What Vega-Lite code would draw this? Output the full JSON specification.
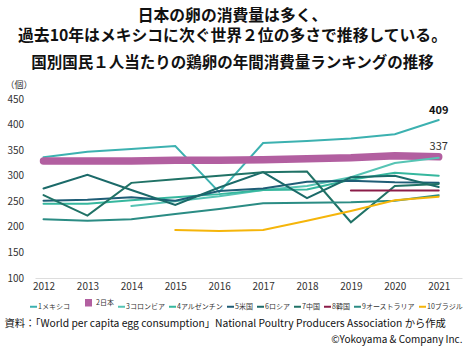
{
  "$schema": "https://vega.github.io/schema/vega-lite/v6.json",
  "width": 427,
  "height": 179,
  "autosize": "none",
  "padding": {"left": 35, "top": 99, "right": 3, "bottom": 70},
  "background": "white",
  "title": {
    "text": ["日本の卵の消費量は多く、", "過去10年はメキシコに次ぐ世界２位の多さで推移している。"],
    "subtitle": "国別国民１人当たりの鶏卵の年間消費量ランキングの推移",
    "anchor": "middle",
    "frame": "group",
    "dx": -16,
    "font": "Noto Sans CJK JP",
    "fontSize": 15.8,
    "fontWeight": "bold",
    "color": "#111111",
    "lineHeight": 20,
    "subtitleFont": "Noto Sans CJK JP",
    "subtitleFontSize": 15.5,
    "subtitleFontWeight": "bold",
    "subtitleColor": "#111111",
    "subtitlePadding": 11,
    "offset": 8
  },
  "config": {
    "view": {"stroke": null},
    "font": "Noto Sans CJK JP"
  },
  "data": {
    "values": [
      {"country": "1メキシコ", "year": 2012, "value": 336},
      {"country": "1メキシコ", "year": 2013, "value": 347},
      {"country": "1メキシコ", "year": 2014, "value": 352},
      {"country": "1メキシコ", "year": 2015, "value": 358},
      {"country": "1メキシコ", "year": 2016, "value": 268},
      {"country": "1メキシコ", "year": 2017, "value": 364},
      {"country": "1メキシコ", "year": 2018, "value": 368},
      {"country": "1メキシコ", "year": 2019, "value": 373},
      {"country": "1メキシコ", "year": 2020, "value": 381},
      {"country": "1メキシコ", "year": 2021, "value": 409},
      {"country": "2日本", "year": 2012, "value": 329},
      {"country": "2日本", "year": 2013, "value": 329},
      {"country": "2日本", "year": 2014, "value": 329},
      {"country": "2日本", "year": 2015, "value": 330},
      {"country": "2日本", "year": 2016, "value": 330},
      {"country": "2日本", "year": 2017, "value": 331},
      {"country": "2日本", "year": 2018, "value": 333},
      {"country": "2日本", "year": 2019, "value": 335},
      {"country": "2日本", "year": 2020, "value": 339},
      {"country": "2日本", "year": 2021, "value": 337},
      {"country": "3コロンビア", "year": 2014, "value": 241},
      {"country": "3コロンビア", "year": 2015, "value": 250},
      {"country": "3コロンビア", "year": 2016, "value": 260},
      {"country": "3コロンビア", "year": 2017, "value": 272},
      {"country": "3コロンビア", "year": 2018, "value": 280},
      {"country": "3コロンビア", "year": 2019, "value": 297},
      {"country": "3コロンビア", "year": 2020, "value": 325},
      {"country": "3コロンビア", "year": 2021, "value": 335},
      {"country": "4アルゼンチン", "year": 2012, "value": 245},
      {"country": "4アルゼンチン", "year": 2013, "value": 245},
      {"country": "4アルゼンチン", "year": 2014, "value": 252},
      {"country": "4アルゼンチン", "year": 2015, "value": 258},
      {"country": "4アルゼンチン", "year": 2016, "value": 264},
      {"country": "4アルゼンチン", "year": 2017, "value": 272},
      {"country": "4アルゼンチン", "year": 2018, "value": 273},
      {"country": "4アルゼンチン", "year": 2019, "value": 292},
      {"country": "4アルゼンチン", "year": 2020, "value": 306},
      {"country": "4アルゼンチン", "year": 2021, "value": 300},
      {"country": "5米国", "year": 2012, "value": 251},
      {"country": "5米国", "year": 2013, "value": 253},
      {"country": "5米国", "year": 2014, "value": 258},
      {"country": "5米国", "year": 2015, "value": 251},
      {"country": "5米国", "year": 2016, "value": 270},
      {"country": "5米国", "year": 2017, "value": 275},
      {"country": "5米国", "year": 2018, "value": 288},
      {"country": "5米国", "year": 2019, "value": 290},
      {"country": "5米国", "year": 2020, "value": 287},
      {"country": "5米国", "year": 2021, "value": 286},
      {"country": "6ロシア", "year": 2012, "value": 275},
      {"country": "6ロシア", "year": 2013, "value": 302},
      {"country": "6ロシア", "year": 2014, "value": 272},
      {"country": "6ロシア", "year": 2015, "value": 243},
      {"country": "6ロシア", "year": 2016, "value": 277},
      {"country": "6ロシア", "year": 2017, "value": 307},
      {"country": "6ロシア", "year": 2018, "value": 256},
      {"country": "6ロシア", "year": 2019, "value": 297},
      {"country": "6ロシア", "year": 2020, "value": 300},
      {"country": "6ロシア", "year": 2021, "value": 278},
      {"country": "7中国", "year": 2012, "value": 262},
      {"country": "7中国", "year": 2013, "value": 222},
      {"country": "7中国", "year": 2014, "value": 286},
      {"country": "7中国", "year": 2015, "value": 293},
      {"country": "7中国", "year": 2016, "value": 300},
      {"country": "7中国", "year": 2017, "value": 307},
      {"country": "7中国", "year": 2018, "value": 308},
      {"country": "7中国", "year": 2019, "value": 209},
      {"country": "7中国", "year": 2020, "value": 280},
      {"country": "7中国", "year": 2021, "value": 284},
      {"country": "8韓国", "year": 2019, "value": 271},
      {"country": "8韓国", "year": 2020, "value": 271},
      {"country": "8韓国", "year": 2021, "value": 271},
      {"country": "9オーストラリア", "year": 2012, "value": 215},
      {"country": "9オーストラリア", "year": 2013, "value": 212},
      {"country": "9オーストラリア", "year": 2014, "value": 215},
      {"country": "9オーストラリア", "year": 2015, "value": 225},
      {"country": "9オーストラリア", "year": 2016, "value": 235},
      {"country": "9オーストラリア", "year": 2017, "value": 246},
      {"country": "9オーストラリア", "year": 2018, "value": 247},
      {"country": "9オーストラリア", "year": 2019, "value": 248},
      {"country": "9オーストラリア", "year": 2020, "value": 251},
      {"country": "9オーストラリア", "year": 2021, "value": 262},
      {"country": "10ブラジル", "year": 2015, "value": 194},
      {"country": "10ブラジル", "year": 2016, "value": 192},
      {"country": "10ブラジル", "year": 2017, "value": 194},
      {"country": "10ブラジル", "year": 2018, "value": 212},
      {"country": "10ブラジル", "year": 2019, "value": 231},
      {"country": "10ブラジル", "year": 2020, "value": 252},
      {"country": "10ブラジル", "year": 2021, "value": 259}
    ]
  },
  "resolve": {"axis": {"x": "independent", "y": "independent"}},
  "layer": [
    {
      "mark": {"type": "line", "strokeCap": "round", "strokeJoin": "miter"},
      "encoding": {
        "x": {
          "field": "year",
          "type": "quantitative",
          "scale": {"domain": [2011.806, 2021.53], "nice": false, "zero": false},
          "axis": {
            "values": [2012, 2013, 2014, 2015, 2016, 2017, 2018, 2019, 2020, 2021],
            "format": "d",
            "grid": false,
            "ticks": false,
            "domain": true,
            "domainColor": "#dddddd",
            "domainWidth": 1,
            "labelPadding": 3,
            "labelOverlap": false,
            "labelFontSize": 10,
            "labelColor": "#333333",
            "labelFont": "Noto Sans CJK JP",
            "title": "資料：「World per capita egg consumption」National Poultry Producers Association から作成",
            "titleFont": "Noto Sans CJK JP",
            "titleFontSize": 10.3,
            "titleFontWeight": "normal",
            "titleColor": "#111111",
            "titleAlign": "left",
            "titleAnchor": "start",
            "titleBaseline": "middle",
            "titleX": -31,
            "titleY": 45
          }
        },
        "y": {
          "field": "value",
          "type": "quantitative",
          "scale": {"domain": [100, 450], "nice": false, "zero": false},
          "axis": {
            "values": [100, 150, 200, 250, 300, 350, 400, 450],
            "grid": false,
            "ticks": false,
            "tickSize": 0,
            "domain": false,
            "labelOverlap": false,
            "labelAlign": "left",
            "labelPadding": 28,
            "labelFontSize": 10,
            "labelColor": "#333333",
            "labelFont": "Noto Sans CJK JP",
            "title": "（個）",
            "titleAngle": 0,
            "titleAlign": "left",
            "titleBaseline": "middle",
            "titleX": -30,
            "titleY": -15,
            "titleFontSize": 9,
            "titleFontWeight": "normal",
            "titleColor": "#333333"
          }
        },
        "color": {
          "field": "country",
          "type": "nominal",
          "scale": {
            "domain": ["1メキシコ", "2日本", "3コロンビア", "4アルゼンチン", "5米国", "6ロシア", "7中国", "8韓国", "9オーストラリア", "10ブラジル"],
            "range": ["#3cb1b0", "#b25fa0", "#56c4b4", "#36b79e", "#1f5d76", "#1b6a69", "#207266", "#8b1c48", "#2b8c84", "#f5b50a"]
          },
          "legend": {
            "orient": "none",
            "legendX": -6,
            "legendY": 196,
            "direction": "horizontal",
            "title": null,
            "symbolType": "stroke",
            "symbolSize": 49,
            "symbolStrokeWidth": 2,
            "labelFontSize": 7,
            "labelFont": "Noto Sans CJK JP",
            "labelColor": "#333333",
            "labelOffset": 0,
            "columnPadding": 0,
            "padding": 0,
            "rowPadding": 0,
            "encode": {
              "symbols": {
                "update": {
                  "strokeWidth": {"signal": "datum.value === '2日本' ? 6 : 2"}
                }
              }
            }
          }
        },
        "strokeWidth": {
          "field": "country",
          "type": "nominal",
          "scale": {
            "type": "ordinal",
            "domain": ["1メキシコ", "2日本", "3コロンビア", "4アルゼンチン", "5米国", "6ロシア", "7中国", "8韓国", "9オーストラリア", "10ブラジル"],
            "range": [2, 7.5, 2, 2, 2, 2, 2, 2, 2, 2]
          },
          "legend": null
        },
        "order": {"field": "year", "type": "quantitative"}
      }
    },
    {
      "transform": [{"filter": "datum.year === 2021 && datum.country === '1メキシコ'"}],
      "mark": {"type": "text", "fontWeight": "bold", "fontSize": 11, "baseline": "bottom", "align": "center", "dy": -4, "color": "#111111", "font": "Noto Sans CJK JP"},
      "encoding": {
        "x": {
          "field": "year",
          "type": "quantitative",
          "axis": {
            "orient": "top",
            "labels": false,
            "ticks": false,
            "domain": false,
            "grid": false,
            "title": "©Yokoyama & Company Inc.",
            "titleFont": "Noto Sans CJK JP",
            "titleFontSize": 10,
            "titleFontWeight": "normal",
            "titleColor": "#111111",
            "titleAlign": "right",
            "titleAnchor": "end",
            "titleBaseline": "middle",
            "titleAngle": 0,
            "titleX": 427,
            "titleY": 240
          }
        },
        "y": {"field": "value", "type": "quantitative", "axis": null},
        "text": {"field": "value", "type": "quantitative"}
      }
    },
    {
      "transform": [{"filter": "datum.year === 2021 && datum.country === '2日本'"}],
      "mark": {"type": "text", "fontWeight": "normal", "fontSize": 11, "baseline": "bottom", "align": "center", "dy": -5, "color": "#333333", "font": "Noto Sans CJK JP"},
      "encoding": {
        "x": {"field": "year", "type": "quantitative", "axis": null},
        "y": {"field": "value", "type": "quantitative", "axis": null},
        "text": {"field": "value", "type": "quantitative"}
      }
    }
  ]
}
